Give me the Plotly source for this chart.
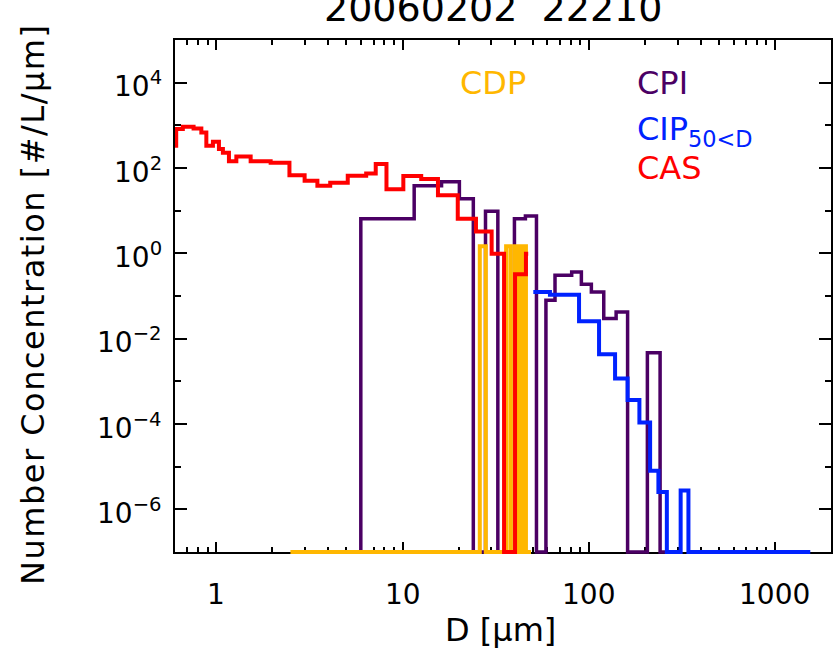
import math
import plotly.graph_objects as go

# ---------------- data ----------------
# CAS (red): bin edges [um] and concentration per bin [#/L/um]
cas_edges = [0.55, 0.609, 0.661, 0.755, 0.831, 0.884, 0.959, 1.033, 1.085, 1.169,
             1.281, 1.529, 1.958, 2.47, 2.98, 3.49, 4.09, 5.08, 6.38, 7.18,
             8.20, 10.1, 12.6, 15.5, 19.8, 24.8, 30.1, 35.1, 40.2, 46.0, 47.3]
cas_vals = [332, 815, 922, 842, 679, 332, 411, 278, 228, 143,
            187, 143, 133, 68, 50.5, 38.5, 45.4, 66, 74.8, 124,
            31.6, 65.3, 55.3, 23.1, 6.43, 3.25, 0.98, 1e-7, 0.325, 0.98]

# CPI (purple)
cpi_edges = [5.54, 5.97, 11.55, 16.2, 20.2, 24.0, 27.9, 32.5, 39.9, 45.7, 52.4,
             58.9, 65.9, 81.0, 91.3, 103.3, 120.4, 140.3, 161.7, 206.5, 241.7, 258.8]
cpi_vals = [1e-7, 6.43, 38.5, 47.9, 18.9, 1e-7, 9.68, 1e-7, 6.43, 7.48, 1e-7,
            0.0794, 0.305, 0.364, 0.1875, 0.124, 0.0296, 0.0423, 1e-7, 0.00466, 1e-7]

# CIP, D > 50 um (blue)
cip_edges = [50.4, 61.9, 88.7, 113.6, 138.5, 161.7, 187.1, 213.6, 236.7, 262.7,
             311.6, 343.1, 1548]
cip_vals = [0.124, 0.1067, 0.0256, 0.00434, 0.00117, 3.66e-4, 1.08e-4, 8.0e-6,
            2.55e-6, 1e-7, 2.78e-6, 1e-7]

# CDP (orange)
cdp_edges = [2.5, 3, 4, 5, 6, 7, 8, 9, 10, 11, 12, 13, 14, 16, 18, 20, 22, 24, 26,
             28, 30, 32, 34, 36, 38, 40, 42, 44, 46, 48, 49]
cdp_vals = [1e-7, 1e-7, 1e-7, 1e-7, 1e-7, 1e-7, 1e-7, 1e-7, 1e-7, 1e-7, 1e-7, 1e-7,
            1e-7, 1e-7, 1e-7, 1e-7, 1e-7, 1e-7, 1.47, 1e-7, 1e-7, 1e-7, 1e-7,
            1.47, 1e-7, 1.47, 1e-7, 1.47, 1e-7, 1e-7]

x_tick_vals = [1, 10, 100, 1000]
x_tick_text = ["1", "10", "100", "1000"]
y_tick_vals = [1e-6, 1e-4, 1e-2, 1e0, 1e2, 1e4]
y_tick_text = ["10<sup>\u22126</sup>", "10<sup>\u22124</sup>", "10<sup>\u22122</sup>",
               "10<sup>0</sup>", "10<sup>2</sup>", "10<sup>4</sup>"]
x_minor = [0.6, 0.7, 0.8, 0.9, 2, 3, 4, 5, 6, 7, 8, 9, 20, 30, 40, 50, 60, 70, 80, 90,
           200, 300, 400, 500, 600, 700, 800, 900, 2000]
y_minor = [1e-5, 1e-3, 1e-1, 1e1, 1e3]

FONT = "DejaVu Sans"
W, H = 833, 649
ML, MR, MT, MB = 175, 2, 40, 93
EXTRA = 4  # px the data area extends below the frame so bottom lines are not clipped
plot_h = H - MT - MB
frame_h = plot_h - EXTRA
dec_px = frame_h / 12.0

fig = go.Figure()

# invisible trace so that the frame subplot (x, y) is created
fig.add_trace(go.Scatter(x=[1], y=[1], mode="markers", marker=dict(opacity=0),
                         xaxis="x", yaxis="y", showlegend=False, hoverinfo="skip"))


def add_step(edges, vals, color, width):
    fig.add_trace(go.Scatter(
        x=edges, y=list(vals) + [vals[-1]], mode="lines",
        line=dict(color=color, width=width, shape="hv"),
        xaxis="x", yaxis="y2", showlegend=False, hoverinfo="skip"))


add_step(cpi_edges, cpi_vals, "#4B0064", 3.5)
add_step(cip_edges, cip_vals, "#0022FF", 4)
add_step(cdp_edges, cdp_vals, "#FFB700", 4)
add_step(cas_edges, cas_vals, "#FF0000", 4)

fig.update_layout(
    width=W, height=H,
    margin=dict(l=ML, r=MR, t=MT, b=MB, autoexpand=False),
    paper_bgcolor="white", plot_bgcolor="rgba(0,0,0,0)",
    font=dict(family=FONT, size=28, color="black"),
    xaxis=dict(type="log", range=[math.log10(0.6), math.log10(2000)],
               anchor="y", showline=True, linecolor="black", linewidth=1.8,
               mirror="ticks", ticks="inside", ticklen=10, tickwidth=2,
               tickcolor="black", tickmode="array", tickvals=x_tick_vals,
               showticklabels=False, showgrid=False, zeroline=False,
               minor=dict(ticks="inside", ticklen=5, tickwidth=1.5,
                          tickcolor="black", tickmode="array", tickvals=x_minor,
                          showgrid=False)),
    yaxis=dict(type="log", range=[-7, 5], domain=[EXTRA / plot_h, 1],
               anchor="x", showline=True, linecolor="black", linewidth=1.8,
               mirror="ticks", ticks="inside", ticklen=12, tickwidth=2,
               tickcolor="black", tickmode="array", tickvals=y_tick_vals,
               showticklabels=False, showgrid=False, zeroline=False,
               minor=dict(ticks="inside", ticklen=6, tickwidth=1.5,
                          tickcolor="black", tickmode="array", tickvals=y_minor,
                          showgrid=False)),
    yaxis2=dict(type="log", range=[-7 - EXTRA / dec_px, 5], domain=[0, 1],
                anchor="x", showline=False, showticklabels=False, ticks="",
                showgrid=False, zeroline=False),
)


def px_x(px):
    return (px - ML) / (W - ML - MR)


def px_y(py):
    return (H - MB - py) / plot_h


# tick labels placed on the axis scales
for v, t in zip(x_tick_vals, x_tick_text):
    fig.add_annotation(text=t, x=math.log10(v), y=px_y(594), xref="x", yref="paper",
                       xanchor="center", yanchor="middle", showarrow=False,
                       font=dict(family=FONT, size=28, color="black"))
for v, t in zip(y_tick_vals, y_tick_text):
    fig.add_annotation(text=t, x=px_x(164), y=math.log10(v), xref="paper", yref="y",
                       xanchor="right", yanchor="middle", yshift=-2, showarrow=False,
                       font=dict(family=FONT, size=28, color="black"))

ann = [
    dict(text="20060202  22210", x=px_x(493), y=px_y(8), size=38,
         color="black", xanchor="center"),
    dict(text="D [\u03bcm]", x=px_x(500), y=px_y(630), size=32,
         color="black", xanchor="center"),
    dict(text="CDP", x=px_x(458), y=px_y(83), size=32, color="#FFB700", xanchor="left"),
    dict(text="CPI", x=px_x(635), y=px_y(83), size=32, color="#4B0064", xanchor="left"),
    dict(text="CIP<sub>50<D</sub>", x=px_x(635), y=px_y(131), size=32,
         color="#0022FF", xanchor="left"),
    dict(text="CAS", x=px_x(635), y=px_y(168), size=32, color="#FF0000", xanchor="left"),
]
for a in ann:
    fig.add_annotation(text=a["text"], x=a["x"], y=a["y"], xref="paper", yref="paper",
                       xanchor=a["xanchor"], yanchor="middle", showarrow=False,
                       font=dict(family=FONT, size=a["size"], color=a["color"]))

fig.add_annotation(text="<span style='letter-spacing:1.5px'>Number Concentration [#/L/\u03bcm]</span>",
                   x=px_x(33), y=px_y(305),
                   xref="paper", yref="paper", xanchor="center", yanchor="middle",
                   textangle=-90, showarrow=False,
                   font=dict(family=FONT, size=32, color="black"))

fig.write_html("out.html", config={"displayModeBar": False},
               post_script="document.body.style.margin='0px';document.body.style.overflow='hidden';")
